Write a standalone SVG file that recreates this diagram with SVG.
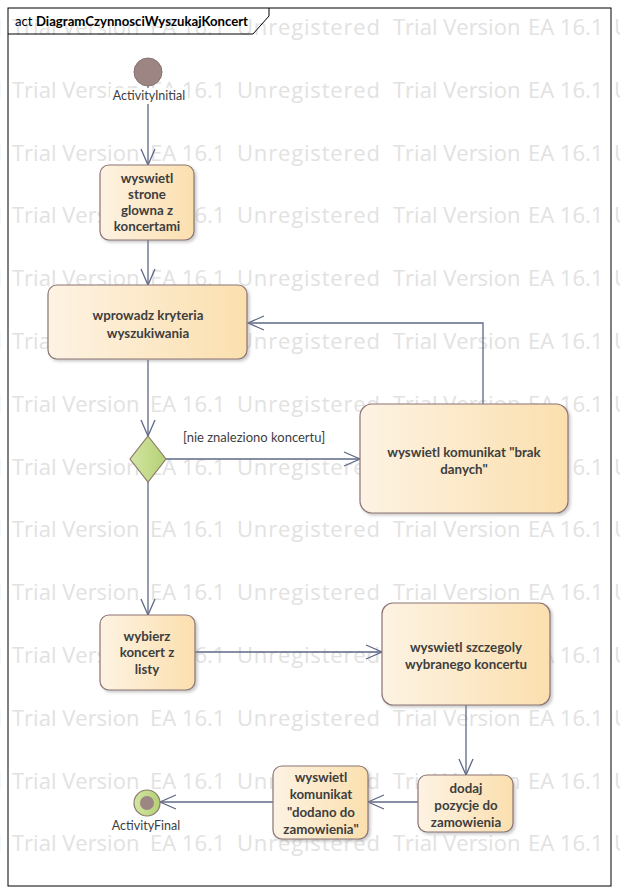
<svg xmlns="http://www.w3.org/2000/svg" xmlns:xlink="http://www.w3.org/1999/xlink" width="620" height="894" viewBox="0 0 620 894">
  <style>
    .wm { font-family: "Open Sans", "Noto Sans", sans-serif; font-size: 22px; fill: #e2e2e2; }
    .act { fill: url(#actFill); stroke: #8c7474; stroke-width: 1.2; filter: url(#shadow); }
    .txt { font-family: Lato, "Liberation Sans", sans-serif; font-size: 13.3px; font-weight: bold; fill: #3e3e3e; text-anchor: middle; }
    .lbl { font-family: Lato, "Liberation Sans", sans-serif; font-size: 12.5px; fill: #3e3e3e; text-anchor: middle; }
    .guard { font-family: Lato, "Liberation Sans", sans-serif; font-size: 13px; fill: #3e3e3e; }
    .edge { fill: none; stroke: #5e6886; stroke-width: 1.3; marker-end: url(#open); }
  </style>
  <defs>
    <linearGradient id="actFill" x1="0" y1="0" x2="1" y2="0">
      <stop offset="0" stop-color="#fdf3e3"/>
      <stop offset="1" stop-color="#fbdfae"/>
    </linearGradient>
    <linearGradient id="greenFill" x1="0" y1="0" x2="1" y2="0">
      <stop offset="0" stop-color="#d3e6a4"/>
      <stop offset="1" stop-color="#b4d074"/>
    </linearGradient>
    <filter id="shadow" x="-10%" y="-10%" width="130%" height="130%">
      <feDropShadow dx="2" dy="2" stdDeviation="1.5" flood-color="#8a8a8a" flood-opacity="0.45"/>
    </filter>
    <marker id="open" viewBox="0 0 18 16" refX="17" refY="8" markerWidth="18" markerHeight="16" markerUnits="userSpaceOnUse" orient="auto">
      <path d="M1,1 L17,8 L1,15" fill="none" stroke="#5e6886" stroke-width="1.3"/>
    </marker>
    <!-- one row of the repeating background stamp -->
    <g id="wmRow">
      <text class="wm" x="-141" y="0" textLength="143" lengthAdjust="spacing">Unregistered</text>
      <text class="wm" x="12" y="0">Trial Version</text>
      <text class="wm" x="150" y="0">EA 16.1</text>
      <text class="wm" x="237" y="0" textLength="143" lengthAdjust="spacing">Unregistered</text>
      <text class="wm" x="393" y="0">Trial Version</text>
      <text class="wm" x="528" y="0">EA 16.1</text>
      <text class="wm" x="614" y="0">U</text>
    </g>
  </defs>

  <rect width="620" height="894" fill="#ffffff"/>

  <!-- background stamp -->
  <g id="stamp">
    <use xlink:href="#wmRow" y="35"/>
    <use xlink:href="#wmRow" y="97.8"/>
    <use xlink:href="#wmRow" y="160.6"/>
    <use xlink:href="#wmRow" y="223.4"/>
    <use xlink:href="#wmRow" y="286.2"/>
    <use xlink:href="#wmRow" y="349"/>
    <use xlink:href="#wmRow" y="411.8"/>
    <use xlink:href="#wmRow" y="474.6"/>
    <use xlink:href="#wmRow" y="537.4"/>
    <use xlink:href="#wmRow" y="600.2"/>
    <use xlink:href="#wmRow" y="663"/>
    <use xlink:href="#wmRow" y="725.8"/>
    <use xlink:href="#wmRow" y="788.6"/>
    <use xlink:href="#wmRow" y="851.4"/>
  </g>

  <!-- diagram frame with name tab -->
  <g id="frame">
    <rect x="8" y="8" width="603" height="878" fill="none" stroke="#000000" stroke-width="1"/>
    <path d="M8,34 H253 L269,16 V8" fill="none" stroke="#000000" stroke-width="1"/>
    <text x="15" y="26" font-family="Lato, 'Liberation Sans', sans-serif" font-size="13" fill="#000000" textLength="233" lengthAdjust="spacingAndGlyphs">act <tspan font-weight="bold">DiagramCzynnosciWyszukajKoncert</tspan></text>
  </g>

  <!-- connectors -->
  <g id="connectors">
    <path class="edge" d="M148,86 V165"/>
    <path class="edge" d="M148,240 V285"/>
    <path class="edge" d="M148,360 V436"/>
    <path class="edge" d="M166,459 H360"/>
    <path class="edge" d="M483,404 V323 H248"/>
    <path class="edge" d="M148,482 V615"/>
    <path class="edge" d="M195,652 H382"/>
    <path class="edge" d="M466,705 V775"/>
    <path class="edge" d="M418,802 H368"/>
    <path class="edge" d="M273,802 H160"/>
    <text class="guard" x="183" y="442">[nie znaleziono koncertu]</text>
  </g>

  <!-- start -->
  <g id="initial">
    <circle cx="148" cy="72" r="14" fill="#9c8583" stroke="#8a7472" stroke-width="1"/>
    <rect x="110" y="88" width="78" height="16" fill="#ffffff"/>
    <text class="lbl" x="149" y="100">ActivityInitial</text>
  </g>

  <g id="showMain">
    <rect class="act" x="100" y="165" width="94" height="75" rx="9"/>
    <text class="txt" x="147" y="183">wyswietl</text>
    <text class="txt" x="147" y="199">strone</text>
    <text class="txt" x="147" y="215">glowna z</text>
    <text class="txt" x="147" y="231">koncertami</text>
  </g>

  <g id="enterCriteria">
    <rect class="act" x="48" y="285" width="199" height="74" rx="9"/>
    <text class="txt" x="148" y="320">wprowadz kryteria</text>
    <text class="txt" x="148" y="338">wyszukiwania</text>
  </g>

  <g id="decision">
    <path d="M148,436 L166,459 L148,482 L130,459 Z" fill="url(#greenFill)" stroke="#8c7b6b" stroke-width="1.2"/>
  </g>

  <g id="noData">
    <rect class="act" x="360" y="404" width="208" height="109" rx="12"/>
    <text class="txt" x="464" y="457">wyswietl komunikat "brak</text>
    <text class="txt" x="464" y="474">danych"</text>
  </g>

  <g id="chooseConcert">
    <rect class="act" x="100" y="615" width="95" height="75" rx="9"/>
    <text class="txt" x="147" y="641">wybierz</text>
    <text class="txt" x="147" y="657">koncert z</text>
    <text class="txt" x="147" y="674">listy</text>
  </g>

  <g id="showDetails">
    <rect class="act" x="382" y="603" width="168" height="102" rx="11"/>
    <text class="txt" x="466" y="652">wyswietl szczegoly</text>
    <text class="txt" x="466" y="669">wybranego koncertu</text>
  </g>

  <g id="addItem">
    <rect class="act" x="418" y="775" width="95" height="57" rx="9"/>
    <text class="txt" x="466" y="793">dodaj</text>
    <text class="txt" x="466" y="810">pozycje do</text>
    <text class="txt" x="466" y="827">zamowienia</text>
  </g>

  <g id="showAdded">
    <rect class="act" x="273" y="766" width="95" height="73" rx="9"/>
    <text class="txt" x="321" y="782">wyswietl</text>
    <text class="txt" x="321" y="799">komunikat</text>
    <text class="txt" x="321" y="817">"dodano do</text>
    <text class="txt" x="321" y="834">zamowienia"</text>
  </g>

  <!-- end -->
  <g id="final">
    <circle cx="147" cy="803" r="13" fill="url(#greenFill)" stroke="#8c7b6b" stroke-width="1.2"/>
    <circle cx="147" cy="803" r="7" fill="#9c8583"/>
    <text class="lbl" x="146" y="830">ActivityFinal</text>
  </g>
</svg>
